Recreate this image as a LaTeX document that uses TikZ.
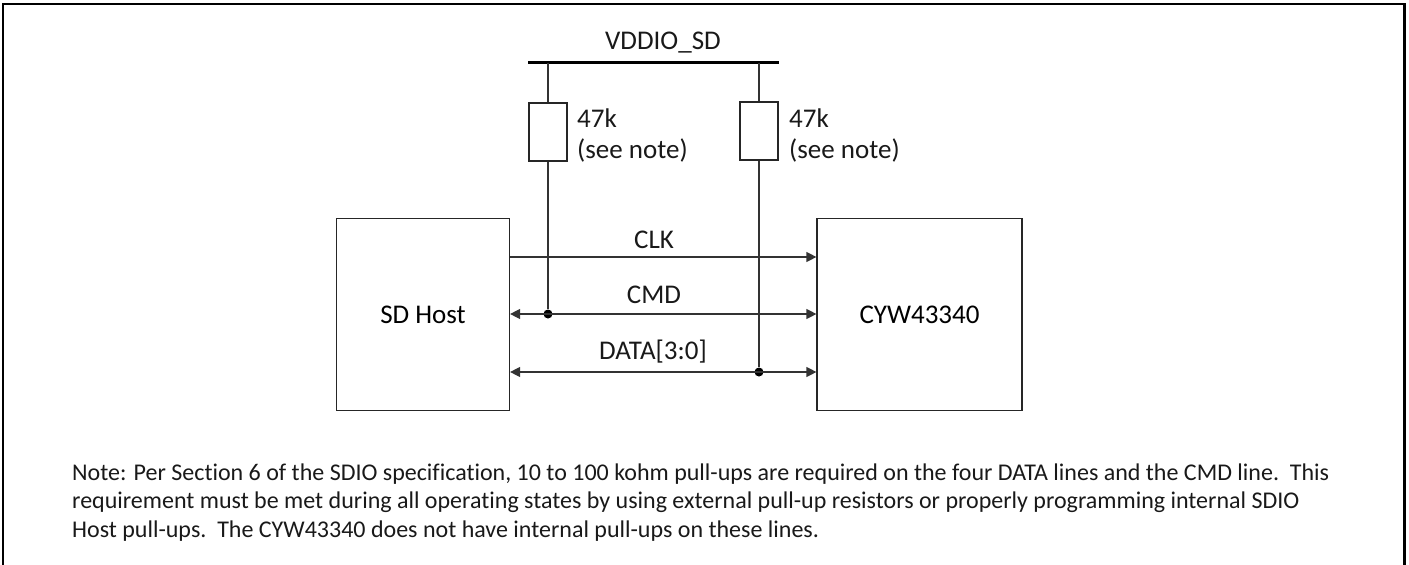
\documentclass[tikz,border=0pt]{standalone}
\usepackage{fontspec}
\setmainfont[Ligatures=NoCommon]{Carlito}
\usetikzlibrary{arrows.meta}
\tikzset{
  x=1pt,y=-1pt,
  blockbox/.style={draw=black!85,line width=1.2pt,minimum width=#1,minimum height=192pt,inner sep=0pt,font=\fontsize{27}{32}\selectfont},
  resbox/.style={draw=black!85,line width=1.2pt,fill=white,minimum width=38pt,minimum height=58pt,inner sep=0pt},
  lbl/.style={inner sep=0pt,font=\fontsize{27}{32}\selectfont,text=black!90},
  wire/.style={draw=black!80,line width=1.2pt},
  sig/.style={wire,{Triangle[length=10pt,width=10pt]}-{Triangle[length=10pt,width=10pt]}},
  sigone/.style={wire,-{Triangle[length=10pt,width=10pt]}},
  jdot/.style={circle,fill=black,minimum size=9pt,inner sep=0pt},
}
\begin{document}
\begin{tikzpicture}
\useasboundingbox (0,0) rectangle (1409,565);
\draw[line width=2.2pt] (3.2,570) -- (3.2,4) -- (1404.5,4) -- (1404.5,570);
% bus
\coordinate (busL) at (528,62.5);
\coordinate (busR) at (779,62.5);
\draw[line width=2.4pt] (busL) -- (busR);
\node[lbl,anchor=base] (vdd) at (663,49) {VDDIO\_SD};
% blocks
\node[blockbox=173pt] (host) at (423,314.5) {SD Host};
\node[blockbox=205pt] (cyw) at (919.5,314.5) {CYW43340};
% resistors
\node[resbox] (r1) at (548,132) {};
\node[resbox] (r2) at (759,131) {};
\node[lbl,anchor=base west] (r1a) at (577,127) {47k};
\node[lbl,anchor=base west] (r1b) at (577,158) {(see note)};
\node[lbl,anchor=base west] (r2a) at (789,127) {47k};
\node[lbl,anchor=base west] (r2b) at (789,158) {(see note)};
% bus junctions and drops
\coordinate (t1) at (548,62.5);
\coordinate (t2) at (759,62.5);
\coordinate (clkL) at (host.east |- 0,257);
\coordinate (clkR) at (cyw.west |- 0,257);
\coordinate (cmdL) at (host.east |- 0,314);
\coordinate (cmdR) at (cyw.west |- 0,314);
\coordinate (datL) at (host.east |- 0,372);
\coordinate (datR) at (cyw.west |- 0,372);
\node[jdot] (j1) at (548,314) {};
\node[jdot] (j2) at (759,372) {};
\draw[wire] (t1) -- (r1);
\draw[wire] (t2) -- (r2);
\draw[wire] (r1) -- (j1);
\draw[wire] (r2) -- (j2);
% signals
\draw[sigone] (clkL) -- (clkR);
\draw[sig] (cmdL) -- (cmdR);
\draw[sig] (datL) -- (datR);
\node[lbl] (clk) at (654,240) {CLK};
\node[lbl] (cmd) at (654,295) {CMD};
\node[lbl] (data) at (653,352) {DATA[3:0]};
% note
\node[anchor=base west,inner sep=0pt,align=left,font=\fontsize{24}{28.5}\selectfont,text=black!90] (note) at (72,537) {Note: Per Section 6 of the SDIO specification, 10 to 100 kohm pull-ups are required on the four DATA lines and the CMD line.\ \ This\\requirement must be met during all operating states by using external pull-up resistors or properly programming internal SDIO\\Host pull-ups.\ \ The CYW43340 does not have internal pull-ups on these lines.};
\end{tikzpicture}
\end{document}
